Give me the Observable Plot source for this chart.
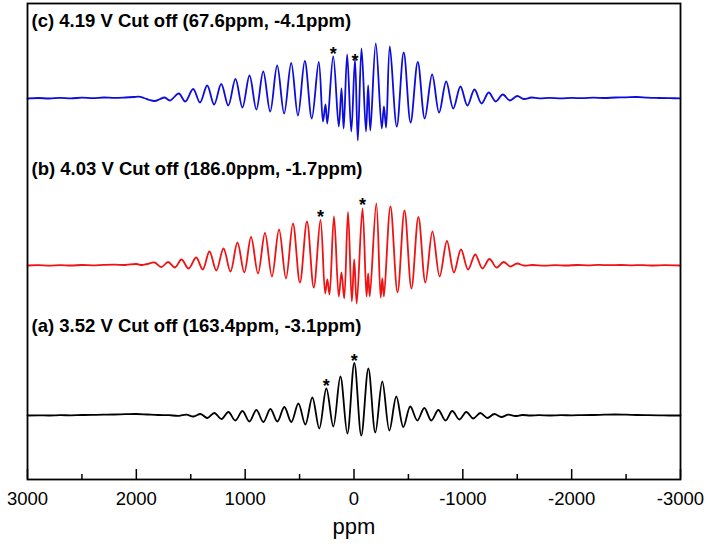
<!DOCTYPE html>
<html>
<head>
<meta charset="utf-8">
<script src="https://cdn.jsdelivr.net/npm/d3@7"></script>
<script src="https://cdn.jsdelivr.net/npm/@observablehq/plot@0.6"></script>
<style>
  html, body { margin: 0; padding: 0; background: #fff; }
</style>
</head>
<body>
<div id="chart"></div>
<script>
// ---- data: [ppm, intensity above the trace baseline] ----
const traceC = [
  [3000,0],[2900,0.5],[2800,0],[2700,0.6],[2600,0.2],[2500,0.8],[2400,0.4],[2300,1],[2200,0.6],[2100,1],
  [2020,1.5],[1980,1.8],[1930,0.5],[1880,-1.5],[1830,-2.5],[1790,-1],[1740,1],[1690,-2],[1610,5],[1550,-3],
  [1478,9.5],[1415,-4],[1349,13],[1285,-6],[1220,14.5],[1155,-7],[1089,19.5],[1025,-9],[960,23],[897,-11],
  [834,27],[770,-13],[706,33],[642,-15],[577,35.5],[515,-17],[452,37.5],[388,-20],[324,36.5],[285,-23],
  [262,-6],[245,-25],[191,42],[140,-28],[115,10],[95,-30],[63,44],[25,-33],[-9,39],[-35,-42],
  [-69,50],[-110,-33],[-130,13],[-150,-32],[-200,55],[-255,-30],[-275,-8],[-295,-29],[-329,52],[-393,-28],
  [-457,46],[-520,-24],[-586,36.5],[-650,-20],[-718,24],[-782,-14],[-847,17],[-912,-10],[-978,12],[-1042,-7],
  [-1107,9],[-1172,-5],[-1238,6],[-1302,-3],[-1367,4],[-1432,-2],[-1499,2.5],[-1560,-0.5],[-1630,1],[-1700,0.2],
  [-1800,0.6],[-1900,0.2],[-2000,0.6],[-2100,0.3],[-2200,0.8],[-2300,0.5],[-2400,1],[-2500,1.2],[-2600,1.5],
  [-2700,0.8],[-2800,0.5],[-2900,0.3],[-3000,0.2]
];
const traceB = [
  [3000,0],[2900,0.3],[2800,-0.2],[2700,0.4],[2600,0],[2500,0.5],[2400,0.2],[2300,0.6],[2200,0.8],[2100,0.5],
  [2000,1.5],[1950,0.5],[1900,1.5],[1833,3],[1770,-1.5],[1708,3.5],[1645,-2],[1585,6],[1520,-3],[1450,8],
  [1390,-4],[1328,14],[1265,-5],[1199,17],[1135,-6],[1071,23],[1008,-7],[946,28.5],[882,-8],[818,32.5],
  [754,-11],[689,36],[625,-13],[561,42],[497,-17],[432,44],[370,-22],[308,45.5],[265,-28],[245,-14],
  [225,-29],[184,49],[140,-31],[115,-7],[90,-33],[55,53.5],[20,-36],[-2,6],[-25,-38],[-78,57],
  [-115,-31],[-130,-8],[-145,-31],[-205,62],[-245,-32],[-260,-13],[-275,-31],[-335,59],[-400,-27],[-464,55],
  [-528,-23],[-592,48.5],[-656,-17],[-721,34],[-787,-11],[-854,24.5],[-918,-7],[-983,16],[-1048,-4],[-1114,11],
  [-1180,-3],[-1245,6.5],[-1310,-2],[-1374,3.5],[-1436,-1],[-1498,2],[-1560,0],[-1640,0.5],[-1750,-0.2],
  [-1850,0.4],[-1950,0],[-2050,0.5],[-2150,0.2],[-2250,0.6],[-2350,0.3],[-2450,0.5],[-2550,0.2],[-2650,0.4],
  [-2750,0],[-2850,0.3],[-3000,0]
];
const traceA = [
  [3000,0],[2900,0.2],[2800,0],[2700,0.3],[2600,0.2],[2500,0.5],[2400,0.6],[2300,0.8],[2200,1],[2100,1.3],
  [2000,1.5],[1900,1],[1800,0.5],[1700,0.3],[1610,-0.3],[1540,0.8],[1475,-1],[1410,1.5],[1347,-2.5],[1283,2.5],
  [1218,-3.5],[1154,3.5],[1090,-5],[1025,4.5],[961,-6],[897,5.5],[833,-6.5],[768,6.5],[704,-6],[640,8.5],
  [576,-6.5],[511,12],[447,-9],[383,18],[319,-13],[254,27],[190,-11],[125,39],[61,-18],[-3,52.5],
  [-67,-20],[-132,47],[-196,-17],[-260,34],[-325,-15],[-389,19],[-453,-11.5],[-517,9],[-582,-5],[-646,7.5],
  [-710,-5],[-775,5.5],[-840,-5],[-903,4.5],[-968,-4],[-1032,3.5],[-1096,-3],[-1160,2.5],[-1225,-2.5],[-1289,1.5],
  [-1353,-1.5],[-1418,0.8],[-1482,-0.5],[-1546,0.5],[-1620,0],[-1700,0.3],[-1800,0],[-1900,0.3],[-2000,0.2],
  [-2100,0.4],[-2200,0.5],[-2300,0.8],[-2400,1],[-2500,0.8],[-2600,0.5],[-2700,0.3],[-2800,0.2],[-2900,0],[-3000,0]
];
// asterisk marks: [ppm, height above baseline]
const starsC = [[191, 48], [-9, 41]];
const starsB = [[308, 52], [-78, 64]];
const starsA = [[254, 33], [-3, 58]];
const labels = [
  "(c) 4.19 V Cut off (67.6ppm, -4.1ppm)",
  "(b) 4.03 V Cut off (186.0ppm, -1.7ppm)",
  "(a) 3.52 V Cut off (163.4ppm, -3.1ppm)"
];
const majorTicks = [3000, 2000, 1000, 0, -1000, -2000, -3000];
const minorTicks = [2500, 1500, 500, -500, -1500, -2500];
const xTitle = "ppm";

// ---- layout (vertical offsets of the stacked traces, in y units) ----
const series = [
  {data: traceC, stars: starsC, label: labels[0], offset: 381, labelY: 458, color: "#0c0cdc"},
  {data: traceB, stars: starsB, label: labels[1], offset: 214, labelY: 310, color: "#f01212"},
  {data: traceA, stars: starsA, label: labels[2], offset: 64,  labelY: 153, color: "#000000"}
];

const marks = [];
for (const s of series) {
  const rows = s.data.map(([ppm, v]) => ({ppm, y: v + s.offset}));
  marks.push(Plot.line(rows, {x: "ppm", y: "y", stroke: s.color, strokeWidth: 1.8, curve: "catmull-rom"}));
  const st = s.stars.map(([ppm, v]) => ({ppm, y: v + s.offset}));
  marks.push(Plot.text(st, {x: "ppm", y: "y", text: () => "*", fontSize: 18, fontWeight: "bold", fill: "#000", dy: 4}));
  marks.push(Plot.text([s.label], {x: 3000, y: s.labelY, text: d => d, textAnchor: "start", dx: 4,
    fontSize: 18.5, fontWeight: "bold", fill: "#000"}));
}
marks.push(Plot.ruleX(majorTicks, {y1: 0, y2: 10, stroke: "#000", strokeWidth: 1.5}));
marks.push(Plot.ruleX(minorTicks, {y1: 0, y2: 5, stroke: "#000", strokeWidth: 1.5}));
marks.push(Plot.frame({stroke: "#000", strokeWidth: 1.8}));
marks.push(Plot.axisX(majorTicks, {tickSize: 0, tickPadding: 12, fontSize: 18.5, tickFormat: d => String(d), label: null}));
marks.push(Plot.text([xTitle], {frameAnchor: "bottom", x: 0, text: d => d, dy: 54, fontSize: 22}));

const chart = Plot.plot({
  width: 707,
  height: 549,
  marginLeft: 27,
  marginRight: 27,
  marginTop: 3,
  marginBottom: 70,
  x: {domain: [3000, -3000]},
  y: {domain: [0, 476], axis: null},
  style: {fontFamily: "'Liberation Sans', Arial, sans-serif", fontSize: "18px", color: "#000", background: "#fff", overflow: "visible"},
  marks
});
document.getElementById("chart").append(chart);
</script>
</body>
</html>
